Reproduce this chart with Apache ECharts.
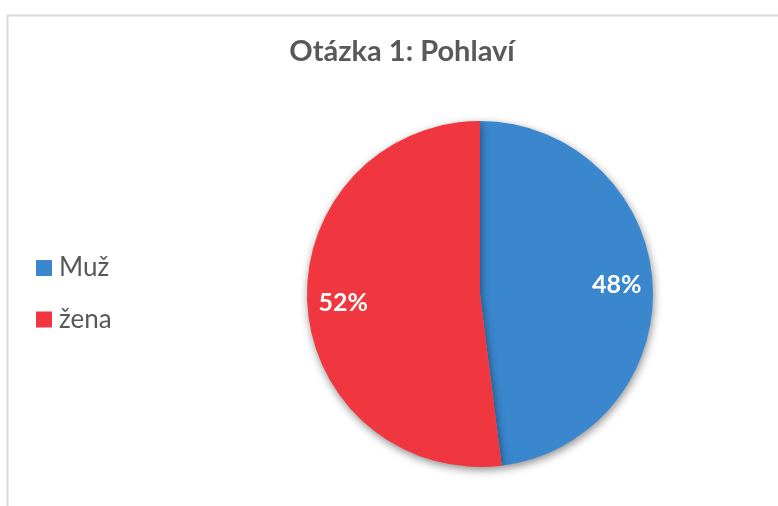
<!DOCTYPE html>
<html>
<head>
<meta charset="utf-8">
<script src="https://cdn.jsdelivr.net/npm/echarts@6/dist/echarts.min.js"></script>
<style>html,body{margin:0;padding:0;background:#fff;}#c{width:778px;height:506px;}</style>
</head>
<body>
<div id="c"></div>
<script>
const titleText = 'Otázka 1: Pohlaví';
const categories = ['Muž', 'žena'];
const values = [48, 52];
const colors = ['#3A87CE', '#F0363E'];

const data = categories.map((name, i) => ({ name: name, value: values[i], itemStyle: { color: colors[i] } }));
const FONT = 'Lato, "Open Sans", sans-serif';

const chart = echarts.init(document.getElementById('c'));
chart.setOption({
  animation: false,
  backgroundColor: '#ffffff',
  graphic: [{
    type: 'rect', left: 5, top: 13, silent: true,
    shape: { width: 900, height: 700 },
    style: { fill: 'none', stroke: '#d9d9d9', lineWidth: 2 }
  }],
  title: {
    text: titleText, left: 397, top: 32, textAlign: 'center',
    textStyle: { fontFamily: FONT, fontSize: 29, fontWeight: 'bold', color: '#595959' }
  },
  legend: {
    orient: 'vertical', left: 36, top: 255, padding: 0,
    itemWidth: 16, itemHeight: 16, itemGap: 25.5,
    icon: 'rect',
    data: categories,
    textStyle: { fontFamily: FONT, fontSize: 26, color: '#595959', lineHeight: 26, padding: [0, 0, 0, 2] }
  },
  series: [{
    type: 'pie', center: [480, 294], radius: [0, 173],
    startAngle: 90, clockwise: true, silent: true,
    label: { show: false }, labelLine: { show: false },
    itemStyle: { shadowBlur: 8, shadowOffsetX: 1, shadowOffsetY: 3, shadowColor: 'rgba(0,0,0,0.45)' },
    data: data
  }, {
    type: 'pie', center: [480, 294], radius: [95, 173],
    startAngle: 90, clockwise: true, silent: true, percentPrecision: 0,
    itemStyle: { color: 'transparent' },
    label: {
      show: true, position: 'inside', formatter: '{d}%',
      fontFamily: FONT, fontSize: 25, fontWeight: 'bold', color: '#ffffff'
    },
    labelLine: { show: false },
    data: categories.map((name, i) => ({ name: name, value: values[i], itemStyle: { color: 'transparent' } }))
  }]
});
</script>
</body>
</html>
